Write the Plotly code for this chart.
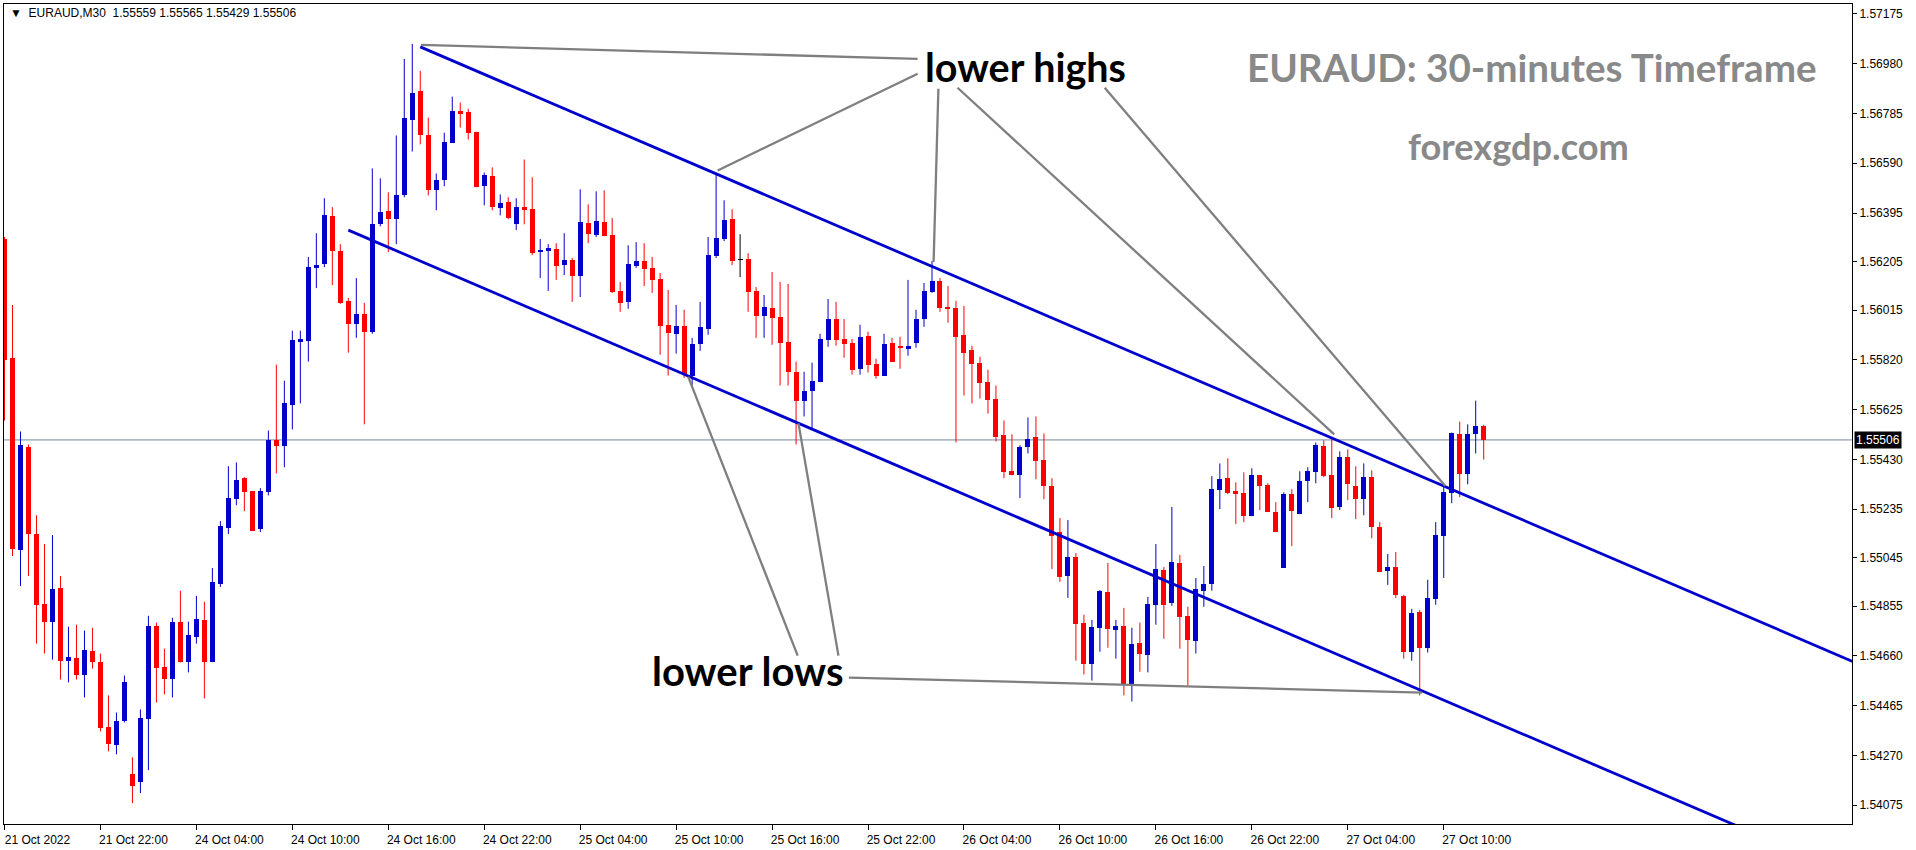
import plotly.graph_objects as go

# ---------------- data (EURAUD M30) ----------------
opens = [
    1.56293, 1.55828, 1.55075, 1.55477, 1.55137, 1.54864, 1.54794, 1.54926, 1.54641, 1.54653,
    1.54583, 1.54680, 1.54637, 1.54380, 1.54310, 1.54403, 1.54196, 1.54165, 1.54411, 1.54778,
    1.54618, 1.54571, 1.54794, 1.54634, 1.54735, 1.54801, 1.54637, 1.54942, 1.55161, 1.55274,
    1.55356, 1.55305, 1.55157, 1.55301, 1.55504, 1.55481, 1.55641, 1.55891, 1.55894, 1.56180,
    1.56195, 1.56382, 1.56246, 1.56051, 1.55961, 1.56000, 1.55930, 1.56351, 1.56402, 1.56371,
    1.56464, 1.56761, 1.56874, 1.56699, 1.56484, 1.56523, 1.56671, 1.56796, 1.56789, 1.56714,
    1.56500, 1.56539, 1.56414, 1.56437, 1.56351, 1.56418, 1.56410, 1.56242, 1.56246, 1.56254,
    1.56191, 1.56211, 1.56148, 1.56355, 1.56308, 1.56359, 1.56308, 1.56090, 1.56047, 1.56187,
    1.56207, 1.56180, 1.56137, 1.55957, 1.55922, 1.55953, 1.55758, 1.55883, 1.55941, 1.56226,
    1.56293, 1.56371, 1.56211, 1.56215, 1.56090, 1.55992, 1.56023, 1.55988, 1.55891, 1.55773,
    1.55660, 1.55699, 1.55734, 1.55898, 1.55980, 1.55902, 1.55887, 1.55785, 1.55914, 1.55805,
    1.55758, 1.55887, 1.55871, 1.55863, 1.55887, 1.55980, 1.56086, 1.56129, 1.56027, 1.56023,
    1.55918, 1.55859, 1.55809, 1.55734, 1.55668, 1.55524, 1.55383, 1.55367, 1.55477, 1.55516,
    1.55426, 1.55325, 1.55145, 1.54973, 1.55047, 1.54790, 1.54630, 1.54770, 1.54911, 1.54762,
    1.54778, 1.54548, 1.54712, 1.54665, 1.54860, 1.54997, 1.54868, 1.55024, 1.54817, 1.54719,
    1.54915, 1.54942, 1.55309, 1.55356, 1.55305, 1.55297, 1.55207, 1.55367, 1.55328, 1.55223,
    1.55004, 1.55293, 1.55215, 1.55344, 1.55379, 1.55481, 1.55367, 1.55243, 1.55438, 1.55325,
    1.55274, 1.55360, 1.55164, 1.54993, 1.55008, 1.54895, 1.54676, 1.54833, 1.54692, 1.54883,
    1.55129, 1.55297, 1.55531, 1.55371, 1.55531, 1.55559,
]
highs = [
    1.56301, 1.56035, 1.55539, 1.55488, 1.55211, 1.55098, 1.55133, 1.54973, 1.54774, 1.54782,
    1.54759, 1.54770, 1.54669, 1.54505, 1.54438, 1.54583, 1.54263, 1.54450, 1.54817, 1.54790,
    1.54688, 1.54809, 1.54915, 1.54794, 1.54895, 1.54872, 1.55004, 1.55188, 1.55403, 1.55418,
    1.55360, 1.55305, 1.55317, 1.55543, 1.55801, 1.55738, 1.55934, 1.55934, 1.56223, 1.56316,
    1.56453, 1.56418, 1.56273, 1.56062, 1.56140, 1.56043, 1.56570, 1.56531, 1.56476, 1.56699,
    1.56999, 1.57058, 1.56952, 1.56769, 1.56550, 1.56710, 1.56851, 1.56828, 1.56804, 1.56714,
    1.56554, 1.56574, 1.56468, 1.56457, 1.56453, 1.56605, 1.56535, 1.56293, 1.56273, 1.56277,
    1.56316, 1.56219, 1.56488, 1.56429, 1.56480, 1.56484, 1.56375, 1.56125, 1.56269, 1.56281,
    1.56277, 1.56223, 1.56160, 1.56094, 1.56035, 1.56016, 1.55906, 1.56047, 1.56301, 1.56546,
    1.56445, 1.56410, 1.56312, 1.56238, 1.56105, 1.56074, 1.56164, 1.56125, 1.56117, 1.55813,
    1.55773, 1.55809, 1.55922, 1.56058, 1.56047, 1.55980, 1.55902, 1.55957, 1.55930, 1.55824,
    1.55922, 1.55906, 1.55910, 1.56133, 1.56016, 1.56121, 1.56207, 1.56140, 1.56109, 1.56051,
    1.56031, 1.55875, 1.55832, 1.55781, 1.55719, 1.55582, 1.55528, 1.55485, 1.55594, 1.55598,
    1.55531, 1.55356, 1.55200, 1.55192, 1.55063, 1.54821, 1.54801, 1.54918, 1.55024, 1.54801,
    1.54848, 1.54770, 1.54790, 1.54891, 1.55098, 1.55008, 1.55243, 1.55055, 1.54852, 1.54965,
    1.55012, 1.55364, 1.55414, 1.55434, 1.55340, 1.55379, 1.55395, 1.55367, 1.55336, 1.55262,
    1.55301, 1.55313, 1.55383, 1.55399, 1.55496, 1.55504, 1.55508, 1.55461, 1.55469, 1.55403,
    1.55414, 1.55387, 1.55184, 1.55059, 1.55067, 1.54899, 1.54844, 1.54840, 1.54958, 1.55184,
    1.55321, 1.55535, 1.55578, 1.55567, 1.55660, 1.55565,
]
lows = [
    1.55582, 1.55051, 1.54934, 1.54973, 1.54708, 1.54669, 1.54645, 1.54567, 1.54556, 1.54567,
    1.54497, 1.54610, 1.54364, 1.54286, 1.54274, 1.54399, 1.54083, 1.54122, 1.54212, 1.54477,
    1.54509, 1.54497, 1.54634, 1.54595, 1.54708, 1.54493, 1.54637, 1.54930, 1.55137, 1.55250,
    1.55227, 1.55149, 1.55145, 1.55289, 1.55375, 1.55399, 1.55547, 1.55649, 1.55813, 1.56101,
    1.56183, 1.56113, 1.56039, 1.55848, 1.55906, 1.55567, 1.55922, 1.56343, 1.56242, 1.56273,
    1.56457, 1.56636, 1.56664, 1.56464, 1.56406, 1.56500, 1.56671, 1.56730, 1.56683, 1.56496,
    1.56425, 1.56406, 1.56386, 1.56371, 1.56328, 1.56351, 1.56230, 1.56140, 1.56090, 1.56133,
    1.56152, 1.56047, 1.56066, 1.56277, 1.56301, 1.56304, 1.56082, 1.56008, 1.56020, 1.56180,
    1.56109, 1.56082, 1.55840, 1.55758, 1.55844, 1.55750, 1.55719, 1.55855, 1.55918, 1.56219,
    1.56285, 1.56191, 1.56144, 1.56008, 1.55906, 1.55906, 1.55879, 1.55719, 1.55719, 1.55488,
    1.55598, 1.55551, 1.55734, 1.55871, 1.55875, 1.55828, 1.55762, 1.55762, 1.55770, 1.55746,
    1.55758, 1.55813, 1.55785, 1.55836, 1.55867, 1.55949, 1.56082, 1.56008, 1.55965, 1.55496,
    1.55680, 1.55649, 1.55668, 1.55609, 1.55500, 1.55356, 1.55367, 1.55278, 1.55453, 1.55352,
    1.55274, 1.55000, 1.54950, 1.54887, 1.54641, 1.54587, 1.54563, 1.54676, 1.54692, 1.54649,
    1.54505, 1.54481, 1.54598, 1.54595, 1.54782, 1.54727, 1.54856, 1.54688, 1.54544, 1.54669,
    1.54852, 1.54915, 1.55235, 1.55293, 1.55176, 1.55184, 1.55207, 1.55231, 1.55223, 1.55145,
    1.55004, 1.55090, 1.55215, 1.55262, 1.55336, 1.55360, 1.55200, 1.55231, 1.55270, 1.55196,
    1.55211, 1.55121, 1.54989, 1.54938, 1.54887, 1.54649, 1.54641, 1.54505, 1.54673, 1.54860,
    1.54965, 1.55258, 1.55282, 1.55332, 1.55453, 1.55429,
]
closes = [
    1.55820, 1.55079, 1.55488, 1.55137, 1.54860, 1.54794, 1.54922, 1.54641, 1.54657, 1.54583,
    1.54684, 1.54634, 1.54376, 1.54313, 1.54403, 1.54559, 1.54149, 1.54415, 1.54778, 1.54614,
    1.54571, 1.54794, 1.54634, 1.54743, 1.54805, 1.54634, 1.54950, 1.55168, 1.55278, 1.55348,
    1.55301, 1.55149, 1.55305, 1.55504, 1.55481, 1.55649, 1.55898, 1.55902, 1.56183, 1.56191,
    1.56386, 1.56246, 1.56043, 1.55961, 1.56000, 1.55930, 1.56351, 1.56398, 1.56371, 1.56464,
    1.56769, 1.56867, 1.56699, 1.56484, 1.56523, 1.56675, 1.56796, 1.56785, 1.56707, 1.56496,
    1.56543, 1.56418, 1.56433, 1.56375, 1.56418, 1.56406, 1.56238, 1.56250, 1.56258, 1.56187,
    1.56211, 1.56148, 1.56359, 1.56312, 1.56363, 1.56304, 1.56086, 1.56043, 1.56195, 1.56207,
    1.56176, 1.56133, 1.55953, 1.55926, 1.55953, 1.55762, 1.55883, 1.55949, 1.56230, 1.56297,
    1.56367, 1.56207, 1.56211, 1.56086, 1.55992, 1.56027, 1.55984, 1.55887, 1.55773, 1.55660,
    1.55699, 1.55738, 1.55902, 1.55980, 1.55898, 1.55883, 1.55781, 1.55910, 1.55801, 1.55758,
    1.55883, 1.55813, 1.55867, 1.55875, 1.55980, 1.56090, 1.56129, 1.56023, 1.56020, 1.55910,
    1.55848, 1.55805, 1.55731, 1.55664, 1.55516, 1.55379, 1.55367, 1.55477, 1.55508, 1.55422,
    1.55325, 1.55129, 1.54969, 1.55047, 1.54786, 1.54630, 1.54774, 1.54915, 1.54766, 1.54778,
    1.54548, 1.54708, 1.54669, 1.54864, 1.55000, 1.54860, 1.55028, 1.54813, 1.54723, 1.54922,
    1.54942, 1.55313, 1.55352, 1.55297, 1.55293, 1.55207, 1.55367, 1.55325, 1.55223, 1.55145,
    1.55293, 1.55227, 1.55344, 1.55383, 1.55485, 1.55364, 1.55239, 1.55438, 1.55332, 1.55274,
    1.55360, 1.55164, 1.54989, 1.55008, 1.54899, 1.54676, 1.54829, 1.54692, 1.54887, 1.55133,
    1.55301, 1.55535, 1.55371, 1.55531, 1.55559, 1.55506,
]

# x-axis: bar index of each labelled time and its label
tick_bars = [0, 12, 24, 36, 48, 60, 72, 84, 96, 108, 120, 132, 144, 156, 168, 180]
tick_labels = ["21 Oct 2022", "21 Oct 22:00", "24 Oct 04:00", "24 Oct 10:00",
               "24 Oct 16:00", "24 Oct 22:00", "25 Oct 04:00", "25 Oct 10:00",
               "25 Oct 16:00", "25 Oct 22:00", "26 Oct 04:00", "26 Oct 10:00",
               "26 Oct 16:00", "26 Oct 22:00", "27 Oct 04:00", "27 Oct 10:00"]

# y-axis price ticks
price_ticks = [1.57175, 1.56980, 1.56785, 1.56590, 1.56395, 1.56205, 1.56015, 1.55820,
               1.55625, 1.55430, 1.55235, 1.55045, 1.54855, 1.54660, 1.54465, 1.54270, 1.54075]
last_price = 1.55506

# channel lines (bar index, price)
upper_channel_bars = [52, 240]
upper_channel_prices = [1.57046, 1.54519]
lower_channel_bars = [43, 240]
lower_channel_prices = [1.56328, 1.53680]

# grey connector lines of the annotations: (bar0, price0, bar1, price1)
highs_connectors = [
    (52.1, 1.57054, 114.2, 1.56999),
    (114.2, 1.56941, 89.2, 1.56562),
    (116.8, 1.56882, 116.2, 1.56203),
    (119.2, 1.56886, 166.3, 1.55528),
    (137.6, 1.56886, 180.2, 1.55325),
]
lows_connectors = [
    (99.2, 1.54661, 85.5, 1.55754),
    (104.3, 1.54661, 99.3, 1.55571),
    (105.6, 1.54575, 177.3, 1.54516),
]
label_highs_pos = (127.7, 1.56968)
label_lows_pos = (93.0, 1.54602)

header_text = "EURAUD,M30  1.55559 1.55565 1.55429 1.55506"
title_text = "EURAUD: 30-minutes Timeframe"
site_text = "forexgdp.com"

# ---------------- build ----------------
BLUE = "#0000CC"
RED = "#FF0000"
n = len(opens)
bars = list(range(n))

body_base, body_h, body_col = [], [], []
wick = {"up": ([], []), "down": ([], []), "doji": ([], [])}
for i in bars:
    o, h, l, c = opens[i], highs[i], lows[i], closes[i]
    kind = "up" if c > o else ("down" if c < o else "doji")
    body_base.append(min(o, c))
    body_h.append(max(abs(c - o), 0.00003))
    body_col.append({"up": BLUE, "down": RED, "doji": "#000000"}[kind])
    wx, wy = wick[kind]
    wx += [i, i, None]
    wy += [h, l, None]

fig = go.Figure()

for kind, col in (("up", BLUE), ("down", RED), ("doji", "#000000")):
    wx, wy = wick[kind]
    fig.add_trace(go.Scatter(x=wx, y=wy, mode="lines", line=dict(color=col, width=1),
                             hoverinfo="skip"))

fig.add_trace(go.Bar(x=bars, y=body_h, base=body_base, width=0.625,
                     marker=dict(color=body_col, line=dict(width=0)), hoverinfo="skip"))

# channel
fig.add_trace(go.Scatter(x=upper_channel_bars, y=upper_channel_prices, mode="lines",
                         line=dict(color="#0000CD", width=2.8), hoverinfo="skip"))
fig.add_trace(go.Scatter(x=lower_channel_bars, y=lower_channel_prices, mode="lines",
                         line=dict(color="#0000CD", width=2.8), hoverinfo="skip"))

# grey connectors
for seg in highs_connectors + lows_connectors:
    fig.add_trace(go.Scatter(x=[seg[0], seg[2]], y=[seg[1], seg[3]], mode="lines",
                             line=dict(color="#7F7F7F", width=2.3), hoverinfo="skip"))

# current price line
fig.add_shape(type="line", xref="paper", x0=0, x1=1, yref="y", y0=last_price, y1=last_price,
              line=dict(color="#778899", width=1), layer="below")

annots = [
    dict(x=label_highs_pos[0], y=label_highs_pos[1], xref="x", yref="y", text="lower highs",
         xanchor="center", yanchor="middle", showarrow=False,
         font=dict(family="Lato", size=39.5, color="#000000", weight="bold")),
    dict(x=label_lows_pos[0], y=label_lows_pos[1], xref="x", yref="y", text="lower lows",
         xanchor="center", yanchor="middle", showarrow=False,
         font=dict(family="Lato", size=40, color="#000000", weight="bold")),
    dict(x=0.8269, y=0.9231, xref="paper", yref="paper", text=title_text, showarrow=False,
         xanchor="center", yanchor="middle",
         font=dict(family="Lato", size=38.6, color="#898989", weight="bold")),
    dict(x=0.8194, y=0.8264, xref="paper", yref="paper", text=site_text, showarrow=False,
         xanchor="center", yanchor="middle",
         font=dict(family="Lato", size=36.2, color="#898989", weight="bold")),
    dict(x=0.0022, y=0.9885, xref="paper", yref="paper", xanchor="left", yanchor="middle",
         text="\u25BC  " + header_text, showarrow=False,
         font=dict(family="Liberation Sans", size=12, color="#000000")),
    dict(x=1, y=last_price, xref="paper", yref="y", xanchor="left", yanchor="middle",
         xshift=2, text="1.55506", showarrow=False, bgcolor="#000000", borderpad=1,
         font=dict(family="Liberation Sans", size=12, color="#FFFFFF")),
]

fig.update_layout(
    width=1916, height=850,
    margin=dict(l=3, r=64, t=3, b=24),
    paper_bgcolor="white", plot_bgcolor="white",
    showlegend=False, bargap=0,
    annotations=annots,
    xaxis=dict(range=[-0.0625, 231.0625], showgrid=False, zeroline=False,
               showline=True, linecolor="black", linewidth=1, mirror=True,
               ticks="outside", ticklen=5, tickcolor="black",
               tickvals=tick_bars, ticktext=tick_labels, ticklabelshift=33,
               tickfont=dict(family="Liberation Sans", size=12, color="#000000")),
    yaxis=dict(range=[1.540011, 1.572141], side="right", showgrid=False, zeroline=False,
               showline=True, linecolor="black", linewidth=1, mirror=True,
               ticks="outside", ticklen=4, tickcolor="black",
               tickvals=price_ticks, ticktext=[f"{v:.5f}" for v in price_ticks],
               tickfont=dict(family="Liberation Sans", size=12, color="#000000")),
)

fig.write_html("out.html", config={"displayModeBar": False},
               post_script="document.body.style.margin='0';")
